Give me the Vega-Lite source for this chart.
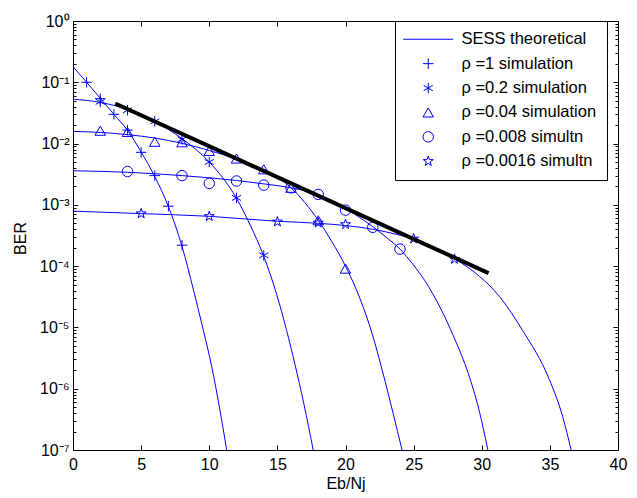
{
  "$schema": "https://vega.github.io/schema/vega-lite/v6.json",
  "width": 545,
  "height": 429,
  "autosize": {"type": "none"},
  "padding": {"left": 73, "top": 21, "right": 19, "bottom": 48},
  "background": "white",
  "datasets": {
    "theory": [
      {"rho": "1", "x": 0, "ber": 0.18}, {"rho": "1", "x": 1, "ber": 0.1}, {"rho": "1", "x": 2, "ber": 0.055}, {"rho": "1", "x": 3, "ber": 0.030}, {"rho": "1", "x": 4, "ber": 0.0165}, {"rho": "1", "x": 5, "ber": 0.0073}, {"rho": "1", "x": 6, "ber": 0.0029}, {"rho": "1", "x": 7, "ber": 0.00094}, {"rho": "1", "x": 8, "ber": 0.00021}, {"rho": "1", "x": 8.84, "ber": 4.1e-5}, {"rho": "1", "x": 9.57, "ber": 8.9e-6}, {"rho": "1", "x": 10.18, "ber": 2.3e-6}, {"rho": "1", "x": 10.79, "ber": 4.4e-7}, {"rho": "1", "x": 11.28, "ber": 1e-7},
      {"rho": "0.2", "x": 0, "ber": 0.053}, {"rho": "0.2", "x": 2, "ber": 0.047}, {"rho": "0.2", "x": 4, "ber": 0.036}, {"rho": "0.2", "x": 6, "ber": 0.023}, {"rho": "0.2", "x": 8, "ber": 0.012}, {"rho": "0.2", "x": 10, "ber": 0.0050}, {"rho": "0.2", "x": 12, "ber": 0.00128}, {"rho": "0.2", "x": 13, "ber": 0.00047}, {"rho": "0.2", "x": 14, "ber": 0.000145}, {"rho": "0.2", "x": 14.94, "ber": 3.5e-5}, {"rho": "0.2", "x": 15.68, "ber": 8.9e-6}, {"rho": "0.2", "x": 16.29, "ber": 2.5e-6}, {"rho": "0.2", "x": 16.95, "ber": 5.6e-7}, {"rho": "0.2", "x": 17.63, "ber": 1e-7},
      {"rho": "0.04", "x": 0, "ber": 0.0158}, {"rho": "0.04", "x": 2, "ber": 0.0152}, {"rho": "0.04", "x": 4, "ber": 0.0140}, {"rho": "0.04", "x": 6, "ber": 0.0123}, {"rho": "0.04", "x": 8, "ber": 0.0101}, {"rho": "0.04", "x": 10, "ber": 0.0077}, {"rho": "0.04", "x": 12, "ber": 0.0056}, {"rho": "0.04", "x": 14, "ber": 0.0037}, {"rho": "0.04", "x": 16, "ber": 0.0019}, {"rho": "0.04", "x": 17, "ber": 0.0011}, {"rho": "0.04", "x": 18, "ber": 0.00056}, {"rho": "0.04", "x": 19, "ber": 0.00025}, {"rho": "0.04", "x": 20, "ber": 0.0001}, {"rho": "0.04", "x": 21.05, "ber": 3.0e-5}, {"rho": "0.04", "x": 21.98, "ber": 7.6e-6}, {"rho": "0.04", "x": 22.75, "ber": 1.8e-6}, {"rho": "0.04", "x": 23.49, "ber": 4.0e-7}, {"rho": "0.04", "x": 24.15, "ber": 1e-7},
      {"rho": "0.008", "x": 0, "ber": 0.0036}, {"rho": "0.008", "x": 4, "ber": 0.0034}, {"rho": "0.008", "x": 8, "ber": 0.0030}, {"rho": "0.008", "x": 12, "ber": 0.0025}, {"rho": "0.008", "x": 14, "ber": 0.0022}, {"rho": "0.008", "x": 16, "ber": 0.0019}, {"rho": "0.008", "x": 17, "ber": 0.0017}, {"rho": "0.008", "x": 18, "ber": 0.00145}, {"rho": "0.008", "x": 19, "ber": 0.00115}, {"rho": "0.008", "x": 20, "ber": 0.00087}, {"rho": "0.008", "x": 21, "ber": 0.00063}, {"rho": "0.008", "x": 22, "ber": 0.00044}, {"rho": "0.008", "x": 23, "ber": 0.000295}, {"rho": "0.008", "x": 24, "ber": 0.00019}, {"rho": "0.008", "x": 24.95, "ber": 0.000107}, {"rho": "0.008", "x": 25.8, "ber": 5.9e-5}, {"rho": "0.008", "x": 27, "ber": 2.0e-5}, {"rho": "0.008", "x": 28, "ber": 6.6e-6}, {"rho": "0.008", "x": 29, "ber": 1.8e-6}, {"rho": "0.008", "x": 29.8, "ber": 4.5e-7}, {"rho": "0.008", "x": 30.45, "ber": 1e-7},
      {"rho": "0.0016", "x": 0, "ber": 0.00079}, {"rho": "0.0016", "x": 5, "ber": 0.00072}, {"rho": "0.0016", "x": 10, "ber": 0.00065}, {"rho": "0.0016", "x": 15, "ber": 0.00054}, {"rho": "0.0016", "x": 18, "ber": 0.00050}, {"rho": "0.0016", "x": 20, "ber": 0.00046}, {"rho": "0.0016", "x": 22, "ber": 0.0004}, {"rho": "0.0016", "x": 24, "ber": 0.00032}, {"rho": "0.0016", "x": 25, "ber": 0.00028}, {"rho": "0.0016", "x": 26, "ber": 0.00023}, {"rho": "0.0016", "x": 27, "ber": 0.000178}, {"rho": "0.0016", "x": 28, "ber": 0.000132}, {"rho": "0.0016", "x": 29, "ber": 9.5e-5}, {"rho": "0.0016", "x": 29.84, "ber": 6.8e-5}, {"rho": "0.0016", "x": 31.3, "ber": 3.2e-5}, {"rho": "0.0016", "x": 33, "ber": 8.9e-6}, {"rho": "0.0016", "x": 34.97, "ber": 1.4e-6}, {"rho": "0.0016", "x": 35.94, "ber": 3.5e-7}, {"rho": "0.0016", "x": 36.56, "ber": 1e-7}
    ],
    "sim": [
      {"series": "ρ =1 simulation", "x": 1, "ber": 0.1}, {"series": "ρ =1 simulation", "x": 2, "ber": 0.054}, {"series": "ρ =1 simulation", "x": 3, "ber": 0.030}, {"series": "ρ =1 simulation", "x": 4, "ber": 0.0166}, {"series": "ρ =1 simulation", "x": 5, "ber": 0.0072}, {"series": "ρ =1 simulation", "x": 6, "ber": 0.0030}, {"series": "ρ =1 simulation", "x": 7, "ber": 0.00095}, {"series": "ρ =1 simulation", "x": 8, "ber": 0.00022},
      {"series": "ρ =0.2 simulation", "x": 2, "ber": 0.048}, {"series": "ρ =0.2 simulation", "x": 4, "ber": 0.035}, {"series": "ρ =0.2 simulation", "x": 6, "ber": 0.023}, {"series": "ρ =0.2 simulation", "x": 8, "ber": 0.0117}, {"series": "ρ =0.2 simulation", "x": 10, "ber": 0.005}, {"series": "ρ =0.2 simulation", "x": 12, "ber": 0.0013}, {"series": "ρ =0.2 simulation", "x": 14, "ber": 0.00015},
      {"series": "ρ =0.04 simulation", "x": 2, "ber": 0.0162}, {"series": "ρ =0.04 simulation", "x": 4, "ber": 0.0155}, {"series": "ρ =0.04 simulation", "x": 6, "ber": 0.0107}, {"series": "ρ =0.04 simulation", "x": 8, "ber": 0.0105}, {"series": "ρ =0.04 simulation", "x": 10, "ber": 0.0076}, {"series": "ρ =0.04 simulation", "x": 12, "ber": 0.0057}, {"series": "ρ =0.04 simulation", "x": 14, "ber": 0.0038}, {"series": "ρ =0.04 simulation", "x": 16, "ber": 0.0019}, {"series": "ρ =0.04 simulation", "x": 18, "ber": 0.00056}, {"series": "ρ =0.04 simulation", "x": 20, "ber": 0.000091},
      {"series": "ρ =0.008 simultn", "x": 4, "ber": 0.0035}, {"series": "ρ =0.008 simultn", "x": 8, "ber": 0.0030}, {"series": "ρ =0.008 simultn", "x": 10, "ber": 0.00224}, {"series": "ρ =0.008 simultn", "x": 12, "ber": 0.00245}, {"series": "ρ =0.008 simultn", "x": 14, "ber": 0.0021}, {"series": "ρ =0.008 simultn", "x": 16, "ber": 0.0019}, {"series": "ρ =0.008 simultn", "x": 18, "ber": 0.00148}, {"series": "ρ =0.008 simultn", "x": 20, "ber": 0.00082}, {"series": "ρ =0.008 simultn", "x": 22, "ber": 0.00043}, {"series": "ρ =0.008 simultn", "x": 24, "ber": 0.00019},
      {"series": "ρ =0.0016 simultn", "x": 5, "ber": 0.00072}, {"series": "ρ =0.0016 simultn", "x": 10, "ber": 0.00065}, {"series": "ρ =0.0016 simultn", "x": 15, "ber": 0.00053}, {"series": "ρ =0.0016 simultn", "x": 18, "ber": 0.00051}, {"series": "ρ =0.0016 simultn", "x": 20, "ber": 0.00048}, {"series": "ρ =0.0016 simultn", "x": 25, "ber": 0.00028}, {"series": "ρ =0.0016 simultn", "x": 28, "ber": 0.00013}
    ],
    "bound": [
      {"x": 3.1, "ber": 0.045}, {"x": 30.5, "ber": 7.7e-5}
    ]
  },
  "layer": [
    {
      "data": {"name": "theory"},
      "transform": [{"filter": "datum.rho == '1' || datum.rho == '0.2'"}],
      "mark": {"type": "line", "color": "#0000ff", "strokeWidth": 1, "interpolate": "monotone", "clip": true},
      "encoding": {
        "x": {"field": "x", "type": "quantitative", "scale": {"domain": [0, 40], "nice": false, "zero": false},
          "axis": {"orient": "bottom", "values": [0, 5, 10, 15, 20, 25, 30, 35, 40], "tickSize": -5, "labelPadding": 11, "labelFlush": false, "title": "Eb/Nj", "titleY": 38, "titleBaseline": "alphabetic"}},
        "y": {"field": "ber", "type": "quantitative", "scale": {"type": "log", "domain": [1e-7, 1], "nice": false},
          "axis": {"orient": "left",
            "values": [1e-7, 1e-6, 1e-5, 1e-4, 1e-3, 1e-2, 0.1, 1],
            "labelExpr": "'10' + ['⁰','⁻¹','⁻²','⁻³','⁻⁴','⁻⁵','⁻⁶','⁻⁷'][-round(log(datum.value)/LN10)]",
            "tickSize": -5,
            "labelPadding": 9, "labelFlush": false, "labelOverlap": false,
            "title": "BER", "titleX": -53, "titleY": 217, "titleAngle": -90, "titleAlign": "center", "titleBaseline": "middle"}},
        "detail": {"field": "rho", "type": "nominal"}
      }
    },
    {
      "data": {"name": "theory"},
      "transform": [{"filter": "datum.rho != '1' && datum.rho != '0.2'"}],
      "mark": {"type": "line", "color": "#0000ff", "strokeWidth": 1, "interpolate": "monotone", "clip": true},
      "encoding": {
        "x": {"field": "x", "type": "quantitative", "scale": {"domain": [0, 40], "nice": false, "zero": false}, "axis": null},
        "y": {"field": "ber", "type": "quantitative", "scale": {"type": "log", "domain": [1e-7, 1], "nice": false},
          "axis": {"orient": "left",
            "values": [2e-7, 3e-7, 4e-7, 5e-7, 6e-7, 7e-7, 8e-7, 9e-7, 2e-6, 3e-6, 4e-6, 5e-6, 6e-6, 7e-6, 8e-6, 9e-6, 2e-5, 3e-5, 4e-5, 5e-5, 6e-5, 7e-5, 8e-5, 9e-5, 2e-4, 3e-4, 4e-4, 5e-4, 6e-4, 7e-4, 8e-4, 9e-4, 2e-3, 3e-3, 4e-3, 5e-3, 6e-3, 7e-3, 8e-3, 9e-3, 2e-2, 3e-2, 4e-2, 5e-2, 6e-2, 7e-2, 8e-2, 9e-2, 0.2, 0.3, 0.4, 0.5, 0.6, 0.7, 0.8, 0.9],
            "tickSize": -3, "labels": false, "title": null}},
        "detail": {"field": "rho", "type": "nominal"}
      }
    },
    {
      "data": {"name": "sim"},
      "mark": {"type": "point", "filled": false, "color": "#0000ff", "strokeWidth": 1, "size": 110, "opacity": 1, "clip": true},
      "encoding": {
        "x": {"field": "x", "type": "quantitative", "scale": {"domain": [0, 40], "nice": false, "zero": false}, "axis": null},
        "y": {"field": "ber", "type": "quantitative", "scale": {"type": "log", "domain": [1e-7, 1], "nice": false},
          "axis": {"orient": "right",
            "values": [2e-7, 3e-7, 4e-7, 5e-7, 6e-7, 7e-7, 8e-7, 9e-7, 2e-6, 3e-6, 4e-6, 5e-6, 6e-6, 7e-6, 8e-6, 9e-6, 2e-5, 3e-5, 4e-5, 5e-5, 6e-5, 7e-5, 8e-5, 9e-5, 2e-4, 3e-4, 4e-4, 5e-4, 6e-4, 7e-4, 8e-4, 9e-4, 2e-3, 3e-3, 4e-3, 5e-3, 6e-3, 7e-3, 8e-3, 9e-3, 2e-2, 3e-2, 4e-2, 5e-2, 6e-2, 7e-2, 8e-2, 9e-2, 0.2, 0.3, 0.4, 0.5, 0.6, 0.7, 0.8, 0.9],
            "tickSize": -3, "labels": false, "title": null}},
        "shape": {"field": "series", "type": "nominal",
          "scale": {
            "domain": ["SESS theoretical", "ρ =1 simulation", "ρ =0.2 simulation", "ρ =0.04 simulation", "ρ =0.008 simultn", "ρ =0.0016 simultn"],
            "range": [
              "M-4.77,0H4.77",
              "M-4.77,0M4.77,0M-1,0H1M0,-1V1",
              "M-4.77,0M4.77,0M0,-1V1M-0.866,-0.5L0.866,0.5M-0.866,0.5L0.866,-0.5",
              "M-4.77,0M4.77,0M0,-0.866L-1,0.866L1,0.866Z",
              "M-4.77,0M4.77,0M1,0A1,1,0,1,1,-1,0A1,1,0,1,1,1,0Z",
              "M-4.77,0M4.77,0M0,-1L0.2245,-0.309L0.9511,-0.309L0.3633,0.118L0.5878,0.809L0,0.382L-0.5878,0.809L-0.3633,0.118L-0.9511,-0.309L-0.2245,-0.309Z"]},
          "legend": {"title": null, "orient": "none", "legendX": 322, "legendY": 0, "padding": 10,
            "fillColor": "white", "strokeColor": "black", "cornerRadius": 0,
            "symbolSize": 110, "symbolStrokeColor": "#0000ff", "symbolStrokeWidth": 1, "symbolFillColor": "transparent",
            "symbolOffset": 15, "labelOffset": 25, "labelFont": "Liberation Sans", "labelFontSize": 16.5, "labelColor": "black", "labelLimit": 400, "rowPadding": 7.4, "labelBaseline": "middle"}}
      }
    },
    {
      "data": {"name": "bound"},
      "mark": {"type": "line", "color": "black", "strokeWidth": 4, "strokeCap": "butt"},
      "encoding": {
        "x": {"field": "x", "type": "quantitative", "scale": {"domain": [0, 40], "nice": false, "zero": false},
          "axis": {"orient": "top", "values": [0, 5, 10, 15, 20, 25, 30, 35, 40], "tickSize": -5, "labels": false, "title": null}},
        "y": {"field": "ber", "type": "quantitative", "scale": {"type": "log", "domain": [1e-7, 1], "nice": false},
          "axis": {"orient": "right", "values": [1e-7, 1e-6, 1e-5, 1e-4, 1e-3, 1e-2, 0.1, 1], "tickSize": -5, "labels": false, "title": null}}
      }
    }
  ],
  "resolve": {"axis": {"x": "independent", "y": "independent"}},
  "config": {
    "font": "Liberation Sans",
    "view": {"stroke": "black", "strokeWidth": 1},
    "axis": {"domainColor": "black", "domainWidth": 1, "tickColor": "black", "tickWidth": 1, "labelColor": "black", "titleColor": "black",
      "labelFont": "Liberation Sans", "titleFont": "Liberation Sans", "labelFontSize": 16, "titleFontSize": 16, "titleFontWeight": "normal", "grid": false}
  }
}
